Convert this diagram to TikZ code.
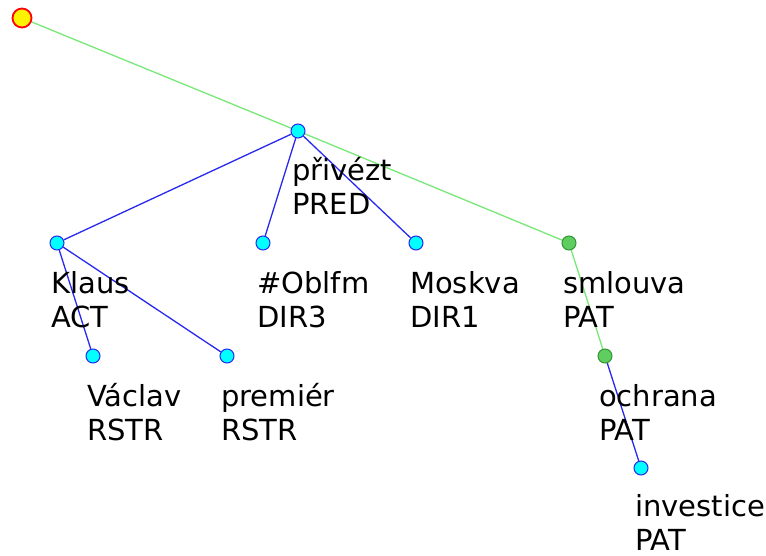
\documentclass[tikz,border=0pt]{standalone}
\usepackage{fontspec}
\setmainfont{DejaVu Sans}
\usetikzlibrary{backgrounds}
\definecolor{gline}{RGB}{120,232,120}
\definecolor{gfill}{RGB}{95,205,95}
\definecolor{gborder}{RGB}{50,150,50}
\definecolor{bline}{RGB}{40,40,240}
\definecolor{cyanfill}{RGB}{0,255,255}
\tikzset{
  tnode/.style={circle, draw=bline, fill=cyanfill, line width=1pt, minimum size=14pt, inner sep=0pt},
  gnode/.style={tnode, draw=gborder, fill=gfill},
  rootnode/.style={circle, draw=red, fill=yellow, line width=1.8pt, minimum size=19pt, inner sep=0pt},
  bedge/.style={draw=bline, line width=1.3pt},
  gedge/.style={draw=gline, line width=1.3pt},
  lab/.style={anchor=base west, align=left, inner sep=0pt, font=\fontsize{29}{34}\selectfont}
}
\begin{document}
\begin{tikzpicture}[x=1pt,y=-1pt]
\useasboundingbox (0,0) rectangle (766,556);
% dots
\node[rootnode] (root) at (22,18) {};
\node[tnode] (prive) at (298,131) {};
\node[tnode] (klaus) at (57,243) {};
\node[tnode] (oblfm) at (263,243) {};
\node[tnode] (moskva) at (416,243) {};
\node[gnode] (smlouva) at (569,243) {};
\node[tnode] (vaclav) at (93,356) {};
\node[tnode] (premier) at (227,356) {};
\node[gnode] (ochrana) at (605,356) {};
\node[tnode] (invest) at (641,468) {};
% labels
\node[lab] (tprive) at (292,215) {přivézt\\PRED};
\node[lab] (tklaus) at (51,327) {Klaus\\ACT};
\node[lab] (toblfm) at (257,327) {\#Oblfm\\DIR3};
\node[lab] (tmoskva) at (410,327) {Moskva\\DIR1};
\node[lab] (tsmlouva) at (563,327) {smlouva\\PAT};
\node[lab] (tvaclav) at (87,440) {Václav\\RSTR};
\node[lab] (tpremier) at (221,440) {premiér\\RSTR};
\node[lab] (tochrana) at (599,440) {ochrana\\PAT};
\node[lab] (tinvest) at (635,550) {investice\\PAT};
% edges
\begin{scope}[on background layer]
\draw[gedge] (root) -- (prive);
\draw[gedge] (prive) -- (smlouva);
\draw[gedge] (smlouva) -- (ochrana);
\draw[bedge] (prive) -- (klaus);
\draw[bedge] (prive) -- (oblfm);
\draw[bedge] (prive) -- (moskva);
\draw[bedge] (klaus) -- (vaclav);
\draw[bedge] (klaus) -- (premier);
\draw[bedge] (ochrana) -- (invest);
\end{scope}
\end{tikzpicture}
\end{document}
